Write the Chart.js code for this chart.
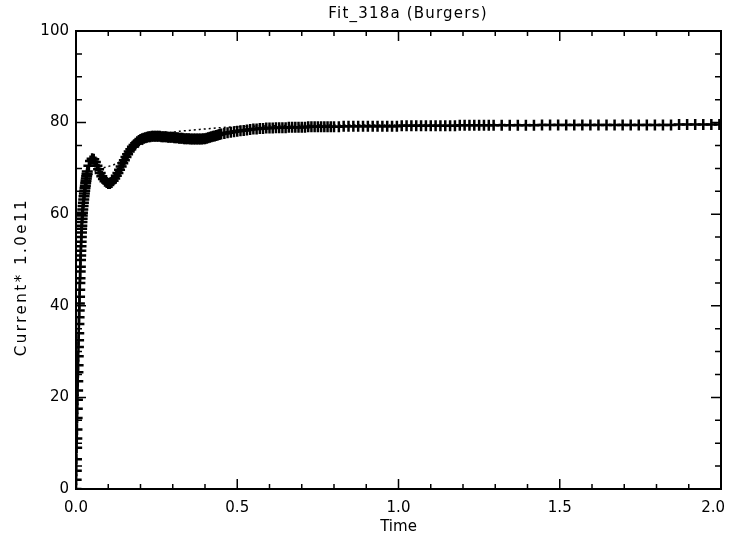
<!DOCTYPE html>
<html>
<head>
<meta charset="utf-8">
<script src="https://cdn.jsdelivr.net/npm/chart.js@4/dist/chart.umd.min.js"></script>
<style>
   html, body { margin: 0; padding: 0; background: #ffffff; }
</style>
</head>
<body>
<canvas id="graphique" width="730" height="538"></canvas>
<script>
// Temps des mesures
const timeList = [
   0, 0.0005, 0.001, 0.0015, 0.002, 0.0025, 0.003, 0.0035, 0.004, 0.0045,
   0.005, 0.0055, 0.006, 0.0065, 0.007, 0.0075, 0.008, 0.0085, 0.009, 0.0095,
   0.01, 0.0105, 0.011, 0.0115, 0.012, 0.0125, 0.013, 0.0135, 0.014, 0.0145,
   0.015, 0.0155, 0.016, 0.0165, 0.017, 0.0175, 0.018, 0.0185, 0.019, 0.0195,
   0.02, 0.021, 0.022, 0.023, 0.024, 0.025, 0.026, 0.027, 0.028, 0.029,
   0.03, 0.031, 0.032, 0.033, 0.034,
   0.035, 0.04, 0.045, 0.05, 0.055, 0.06, 0.065, 0.07, 0.075, 0.08,
   0.085, 0.09, 0.095, 0.1, 0.105, 0.11, 0.115, 0.12, 0.125, 0.13,
   0.135, 0.14, 0.145, 0.15, 0.155, 0.16, 0.165, 0.17, 0.175, 0.18,
   0.185, 0.19, 0.195, 0.2, 0.205, 0.21, 0.215, 0.22, 0.225, 0.23,
   0.235, 0.24, 0.245, 0.25, 0.255, 0.26, 0.265, 0.27, 0.275, 0.28,
   0.285, 0.29, 0.295, 0.3, 0.305, 0.31, 0.315, 0.32, 0.325, 0.33,
   0.335, 0.34, 0.345, 0.35, 0.355, 0.36, 0.365, 0.37, 0.375, 0.38,
   0.385, 0.39, 0.395, 0.4, 0.405, 0.41, 0.415, 0.42, 0.425, 0.43,
   0.435, 0.44, 0.445, 0.45,
   0.46, 0.47, 0.48, 0.49, 0.5, 0.51, 0.52, 0.53, 0.54, 0.55,
   0.56, 0.57, 0.58, 0.59, 0.6, 0.61, 0.62, 0.63, 0.64, 0.65,
   0.66, 0.67, 0.68, 0.69, 0.7, 0.71, 0.72, 0.73, 0.74, 0.75,
   0.76, 0.77, 0.78, 0.79, 0.8,
   0.815, 0.83, 0.845, 0.86, 0.875, 0.89, 0.905, 0.92, 0.935, 0.95,
   0.965, 0.98, 0.995, 1.01, 1.025, 1.04, 1.055, 1.07, 1.085, 1.1,
   1.115, 1.13, 1.145, 1.16, 1.175, 1.19, 1.205, 1.22, 1.235, 1.25,
   1.265, 1.28, 1.295,
   1.32, 1.345, 1.37, 1.395, 1.42, 1.445, 1.47, 1.495, 1.52, 1.545,
   1.57, 1.595, 1.62, 1.645, 1.67, 1.695, 1.72, 1.745, 1.77, 1.795,
   1.82, 1.845, 1.87, 1.895, 1.92, 1.945, 1.97, 1.995
];

// Courant mesuré (x 1.0e11)
const currentList = [
   0, 2, 4, 6.5, 9, 11, 13, 15.5, 17.5, 19.5,
   21.5, 23.5, 25.5, 27, 29, 31, 32.5, 34, 36, 37.5,
   39, 40.5, 42, 43.5, 45, 46, 47.5, 48.5, 50, 51,
   52, 53, 54, 55, 56, 56.8, 57.5, 58.3, 59, 59.7,
   60.3, 61, 61.8, 62.5, 63.2, 63.9, 64.5, 65.1, 65.7, 66.2,
   66.8, 67.3, 67.8, 68.3, 68.8,
   69.3, 70.6, 71.6, 72.1, 72.0, 71.4, 70.6, 69.8, 69.0, 68.3,
   67.7, 67.2, 66.9, 66.7, 66.7, 66.9, 67.3, 67.8, 68.4, 69.0,
   69.7, 70.4, 71.1, 71.8, 72.5, 73.1, 73.7, 74.2, 74.7, 75.1,
   75.5, 75.8, 76.1, 76.3, 76.5, 76.6, 76.7, 76.8, 76.9, 76.9,
   77.0, 77.0, 77.0, 77.0, 77.0, 77.0, 76.9, 76.9, 76.9, 76.9,
   76.8, 76.8, 76.8, 76.8, 76.7, 76.7, 76.7, 76.6, 76.6, 76.6,
   76.5, 76.5, 76.5, 76.5, 76.4, 76.4, 76.4, 76.4, 76.4, 76.4,
   76.4, 76.4, 76.5, 76.5, 76.6, 76.7, 76.8, 76.9, 77.0, 77.1,
   77.2, 77.3, 77.4, 77.5,
   77.6, 77.8, 77.9, 78.0, 78.1, 78.2, 78.3, 78.4, 78.5, 78.6,
   78.6, 78.7, 78.7, 78.8, 78.8, 78.8, 78.9, 78.9, 78.9, 78.9,
   79.0, 79.0, 79.0, 79.0, 79.0, 79.0, 79.1, 79.1, 79.1, 79.1,
   79.1, 79.1, 79.1, 79.1, 79.1,
   79.1, 79.2, 79.2, 79.2, 79.2, 79.2, 79.2, 79.2, 79.2, 79.2,
   79.2, 79.2, 79.2, 79.3, 79.3, 79.3, 79.3, 79.3, 79.3, 79.3,
   79.3, 79.3, 79.3, 79.3, 79.3, 79.4, 79.4, 79.4, 79.4, 79.4,
   79.4, 79.4, 79.4,
   79.4, 79.4, 79.4, 79.4, 79.4, 79.5, 79.5, 79.5, 79.5, 79.5,
   79.5, 79.5, 79.5, 79.5, 79.5, 79.5, 79.5, 79.5, 79.5, 79.5,
   79.5, 79.5, 79.6, 79.6, 79.6, 79.6, 79.6, 79.6
];

// Courbe ajustée (Burgers), en pointillés
const fitTimeList = [0, 0.005, 0.01, 0.015, 0.02, 0.03, 0.04, 0.05, 0.07, 0.1, 0.13, 0.16, 0.2, 0.25, 0.3, 0.35, 0.4, 0.45, 0.5, 0.6, 0.7, 0.8, 1.0, 1.5, 2.0];
const fitCurrentList = [0, 22, 40, 52, 59, 65, 67.5, 68.8, 69.8, 70.4, 71.2, 72.8, 75.0, 77.0, 77.9, 78.3, 78.6, 78.9, 79.1, 79.3, 79.4, 79.5, 79.5, 79.6, 79.6];

// Graduations
const xTickList = [0, 0.5, 1.0, 1.5, 2.0];
const xMinorTickList = [0.1, 0.2, 0.3, 0.4, 0.6, 0.7, 0.8, 0.9, 1.1, 1.2, 1.3, 1.4, 1.6, 1.7, 1.8, 1.9];
const yTickList = [0, 20, 40, 60, 80, 100];
const yMinorTickList = [5, 10, 15, 25, 30, 35, 45, 50, 55, 65, 70, 75, 85, 90, 95];

const fontFamily = '"DejaVu Sans", sans-serif';

// Cadre, graduations intérieures, étiquettes de l'axe x et titres
const cadrePlugin = {
   id: 'cadre',
   afterDraw(chart) {
      const ctx = chart.ctx;
      const area = chart.chartArea;
      const sx = chart.scales.x;
      const sy = chart.scales.y;
      ctx.save();
      ctx.strokeStyle = '#000000';
      ctx.lineWidth = 2;
      ctx.strokeRect(area.left, area.top, area.right - area.left, area.bottom - area.top);
      ctx.lineWidth = 1.5;
      ctx.beginPath();
      const xTick = (v, len) => {
         const px = sx.getPixelForValue(v);
         ctx.moveTo(px, area.bottom); ctx.lineTo(px, area.bottom - len);
         ctx.moveTo(px, area.top); ctx.lineTo(px, area.top + len);
      };
      const yTick = (v, len) => {
         const py = sy.getPixelForValue(v);
         ctx.moveTo(area.left, py); ctx.lineTo(area.left + len, py);
         ctx.moveTo(area.right, py); ctx.lineTo(area.right - len, py);
      };
      xTickList.forEach(v => xTick(v, 10));
      xMinorTickList.forEach(v => xTick(v, 5));
      yTickList.forEach(v => yTick(v, 10));
      yMinorTickList.forEach(v => yTick(v, 6));
      ctx.stroke();

      ctx.fillStyle = '#000000';
      ctx.font = '15px ' + fontFamily;
      ctx.textBaseline = 'middle';
      // étiquettes x : la dernière reste dans le canevas
      ctx.textAlign = 'center';
      xTickList.forEach(v => {
         const label = v.toFixed(1);
         const w = ctx.measureText(label).width;
         let px = sx.getPixelForValue(v);
         px = Math.min(px, chart.width - 5 - w / 2);
         ctx.fillText(label, px, 508);
      });

      ctx.letterSpacing = '1.2px';
      ctx.fillText('Fit_318a (Burgers)', 408, 14);
      ctx.letterSpacing = '2.5px';
      ctx.translate(22, 277);
      ctx.rotate(-Math.PI / 2);
      ctx.fillText('Current* 1.0e11', 0, 0);
      ctx.restore();
   }
};

function createGraphique(element) {
   new Chart(element, {
      type: 'scatter',
      data: {
         datasets: [
            {
               label: 'Fit',
               data: fitTimeList.map((t, i) => ({x: t, y: fitCurrentList[i]})),
               showLine: true,
               borderColor: '#000000',
               borderWidth: 1.5,
               borderDash: [2, 3],
               cubicInterpolationMode: 'monotone',
               pointRadius: 0
            },
            {
               label: 'Current',
               data: timeList.map((t, i) => ({x: t, y: currentList[i]})),
               showLine: true,
               borderColor: '#000000',
               borderWidth: 1,
               pointStyle: 'cross',
               pointRadius: 5.5,
               pointBorderWidth: 2.5,
               pointBorderColor: '#000000',
               pointBackgroundColor: '#000000'
            }
         ]
      },
      options: {
         responsive: false,
         animation: false,
         devicePixelRatio: 1,
         layout: {
            padding: {left: 0, top: 31, right: 9, bottom: 0}
         },
         plugins: {
            legend: {display: false},
            tooltip: {enabled: false}
         },
         scales: {
            x: {
               type: 'linear',
               min: 0,
               max: 2,
               afterBuildTicks: s => { s.ticks = xTickList.map(v => ({value: v})); },
               afterFit: s => { s.height = 49; s.paddingLeft = 0; s.paddingRight = 0; },
               ticks: {display: false},
               grid: {display: false, drawTicks: false},
               border: {display: false},
               title: {
                  display: true,
                  text: 'Time',
                  color: '#000000',
                  padding: {top: 0, bottom: 2},
                  font: {family: fontFamily, size: 15}
               }
            },
            y: {
               type: 'linear',
               min: 0,
               max: 100,
               afterBuildTicks: s => { s.ticks = yTickList.map(v => ({value: v})); },
               afterFit: s => { s.width = 76; s.paddingTop = 0; s.paddingBottom = 0; },
               ticks: {
                  padding: 7,
                  color: '#000000',
                  font: {family: fontFamily, size: 15}
               },
               grid: {display: false, drawTicks: false},
               border: {display: false}
            }
         }
      },
      plugins: [cadrePlugin]
   });
}

createGraphique(document.getElementById('graphique'));
</script>
</body>
</html>
